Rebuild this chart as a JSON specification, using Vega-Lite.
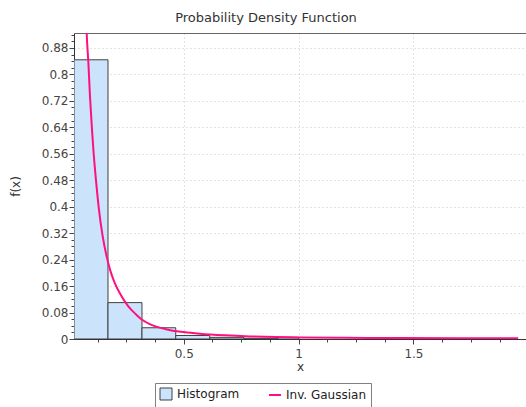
{
  "$schema": "https://vega.github.io/schema/vega-lite/v6.json",
  "width": 452,
  "height": 306,
  "autosize": {"type": "none"},
  "padding": {"left": 74, "top": 33, "right": 0, "bottom": 68},
  "title": {
    "text": "Probability Density Function",
    "fontSize": 13,
    "font": "DejaVu Sans",
    "fontWeight": "normal",
    "color": "#333333",
    "anchor": "middle",
    "frame": "group",
    "dx": -34,
    "offset": 4
  },
  "datasets": {
    "hist": [
      {"series": "Histogram", "bin_start": 0.022, "bin_end": 0.170, "f": 0.844},
      {"series": "Histogram", "bin_start": 0.170, "bin_end": 0.318, "f": 0.110},
      {"series": "Histogram", "bin_start": 0.318, "bin_end": 0.465, "f": 0.034},
      {"series": "Histogram", "bin_start": 0.465, "bin_end": 0.613, "f": 0.0106},
      {"series": "Histogram", "bin_start": 0.613, "bin_end": 0.762, "f": 0.005},
      {"series": "Histogram", "bin_start": 0.762, "bin_end": 0.910, "f": 0.002},
      {"series": "Histogram", "bin_start": 0.910, "bin_end": 1.0, "f": 0.005}
    ],
    "pdf": [
      {"series": "Inv. Gaussian", "x": 0.0745, "f": 0.98},
      {"series": "Inv. Gaussian", "x": 0.0772, "f": 0.925},
      {"series": "Inv. Gaussian", "x": 0.0846, "f": 0.835},
      {"series": "Inv. Gaussian", "x": 0.0915, "f": 0.735},
      {"series": "Inv. Gaussian", "x": 0.1003, "f": 0.633},
      {"series": "Inv. Gaussian", "x": 0.1077, "f": 0.56},
      {"series": "Inv. Gaussian", "x": 0.1177, "f": 0.48},
      {"series": "Inv. Gaussian", "x": 0.1295, "f": 0.398},
      {"series": "Inv. Gaussian", "x": 0.1469, "f": 0.31},
      {"series": "Inv. Gaussian", "x": 0.1643, "f": 0.249},
      {"series": "Inv. Gaussian", "x": 0.1818, "f": 0.203},
      {"series": "Inv. Gaussian", "x": 0.1992, "f": 0.17},
      {"series": "Inv. Gaussian", "x": 0.221, "f": 0.139},
      {"series": "Inv. Gaussian", "x": 0.2559, "f": 0.101},
      {"series": "Inv. Gaussian", "x": 0.2908, "f": 0.075},
      {"series": "Inv. Gaussian", "x": 0.3169, "f": 0.059},
      {"series": "Inv. Gaussian", "x": 0.3518, "f": 0.045},
      {"series": "Inv. Gaussian", "x": 0.4259, "f": 0.029},
      {"series": "Inv. Gaussian", "x": 0.5, "f": 0.021},
      {"series": "Inv. Gaussian", "x": 0.5698, "f": 0.016},
      {"series": "Inv. Gaussian", "x": 0.68, "f": 0.011},
      {"series": "Inv. Gaussian", "x": 0.7877, "f": 0.0078},
      {"series": "Inv. Gaussian", "x": 0.9, "f": 0.0058},
      {"series": "Inv. Gaussian", "x": 1.0013, "f": 0.0047},
      {"series": "Inv. Gaussian", "x": 1.2, "f": 0.0036},
      {"series": "Inv. Gaussian", "x": 1.4416, "f": 0.003},
      {"series": "Inv. Gaussian", "x": 1.7, "f": 0.0026},
      {"series": "Inv. Gaussian", "x": 1.956, "f": 0.0024}
    ]
  },
  "encoding": {
    "y": {
      "field": "f",
      "type": "quantitative",
      "scale": {"domain": [0, 0.925], "nice": false, "zero": true},
      "axis": {
        "title": "f(x)",
        "values": [0, 0.02, 0.04, 0.06, 0.08, 0.1, 0.12, 0.14, 0.16, 0.18, 0.2, 0.22, 0.24, 0.26, 0.28, 0.3, 0.32, 0.34, 0.36, 0.38, 0.4, 0.42, 0.44, 0.46, 0.48, 0.5, 0.52, 0.54, 0.56, 0.58, 0.6, 0.62, 0.64, 0.66, 0.68, 0.7, 0.72, 0.74, 0.76, 0.78, 0.8, 0.82, 0.84, 0.86, 0.88, 0.9, 0.92],
        "format": "~g",
        "labelExpr": "abs(datum.value / 0.08 - round(datum.value / 0.08)) < 0.001 ? datum.label : ''",
        "tickSize": {"condition": {"test": "abs(datum.value / 0.08 - round(datum.value / 0.08)) < 0.001", "value": 5}, "value": 3},
        "gridOpacity": {"condition": {"test": "abs(datum.value / 0.08 - round(datum.value / 0.08)) < 0.001", "value": 1}, "value": 0},
        "grid": true,
        "gridColor": "#c4c4c4",
        "gridDash": [1, 3],
        "labelOverlap": false,
        "labelFlush": false,
        "labelPadding": 1,
        "labelFont": "DejaVu Sans",
        "labelFontSize": 12,
        "labelColor": "#444444",
        "domainColor": "#333333",
        "tickColor": "#444444",
        "titleFont": "DejaVu Sans",
        "titleFontSize": 12,
        "titleFontWeight": "normal",
        "titleColor": "#333333",
        "titlePadding": 19
      }
    },
    "stroke": {
      "field": "series",
      "type": "nominal",
      "scale": {"domain": ["Histogram", "Inv. Gaussian"], "range": ["#404040", "#ff1080"]},
      "legend": {
        "orient": "none",
        "legendX": 81,
        "legendY": 350,
        "direction": "horizontal",
        "title": null,
        "strokeColor": "#808080",
        "fillColor": "#ffffff",
        "padding": 5,
        "symbolSize": 144,
        "labelFont": "DejaVu Sans",
        "labelFontSize": 12,
        "labelColor": "#222222",
        "labelOffset": 5,
        "columnPadding": 25,
        "encode": {
          "symbols": {
            "update": {
              "shape": {"signal": "datum.value === 'Histogram' ? 'square' : 'stroke'"},
              "strokeWidth": {"signal": "datum.value === 'Histogram' ? 1 : 2"},
              "opacity": {"value": 1}
            }
          }
        }
      }
    }
  },
  "layer": [
    {
      "data": {"name": "hist"},
      "mark": {"type": "rect", "strokeWidth": 1, "clip": true},
      "encoding": {
        "x": {
          "field": "bin_start",
          "type": "quantitative",
          "scale": {"domain": [0.022, 1.99], "nice": false, "zero": false},
          "axis": {
            "orient": "bottom",
            "title": "x",
            "values": [0.125, 0.25, 0.375, 0.5, 0.625, 0.75, 0.875, 1, 1.125, 1.25, 1.375, 1.5, 1.625, 1.75, 1.875],
            "format": "~g",
            "labelExpr": "datum.value % 0.5 === 0 ? datum.label : ''",
            "tickSize": {"condition": {"test": "datum.value % 0.5 === 0", "value": 5}, "value": 3},
            "gridOpacity": {"condition": {"test": "datum.value % 0.5 === 0", "value": 1}, "value": 0},
            "grid": true,
            "gridColor": "#c4c4c4",
            "gridDash": [1, 3],
            "labelOverlap": false,
            "labelFlush": false,
            "labelPadding": 4,
            "labelFont": "DejaVu Sans",
            "labelFontSize": 12,
            "labelColor": "#444444",
            "domainColor": "#333333",
            "tickColor": "#444444",
            "titleFont": "DejaVu Sans",
            "titleFontSize": 12,
            "titleFontWeight": "normal",
            "titleColor": "#333333",
            "titlePadding": 2
          }
        },
        "x2": {"field": "bin_end"},
        "y2": {"datum": 0},
        "fill": {
          "field": "series",
          "type": "nominal",
          "scale": {"domain": ["Histogram", "Inv. Gaussian"], "range": ["#cbe3fb", "transparent"]},
          "legend": {
            "orient": "none",
            "legendX": 81,
            "legendY": 350,
            "direction": "horizontal",
            "title": null,
            "strokeColor": "#808080",
            "fillColor": "#ffffff",
            "padding": 5,
            "symbolSize": 144,
            "labelFont": "DejaVu Sans",
            "labelFontSize": 12,
            "labelColor": "#222222",
            "labelOffset": 5,
            "columnPadding": 25,
            "encode": {
              "symbols": {
                "update": {
                  "shape": {"signal": "datum.value === 'Histogram' ? 'square' : 'stroke'"},
                  "strokeWidth": {"signal": "datum.value === 'Histogram' ? 1 : 2"},
                  "opacity": {"value": 1}
                }
              }
            }
          }
        }
      }
    },
    {
      "data": {"name": "pdf"},
      "mark": {"type": "line", "strokeWidth": 2, "interpolate": "monotone", "clip": true},
      "encoding": {
        "x": {
          "field": "x",
          "type": "quantitative",
          "scale": {"domain": [0.022, 1.99], "nice": false, "zero": false},
          "axis": {
            "orient": "top",
            "labels": false,
            "ticks": false,
            "grid": false,
            "domain": true,
            "domainColor": "#666666",
            "title": null
          }
        }
      }
    }
  ],
  "resolve": {"axis": {"x": "independent"}},
  "config": {
    "view": {"stroke": null},
    "font": "DejaVu Sans"
  }
}
